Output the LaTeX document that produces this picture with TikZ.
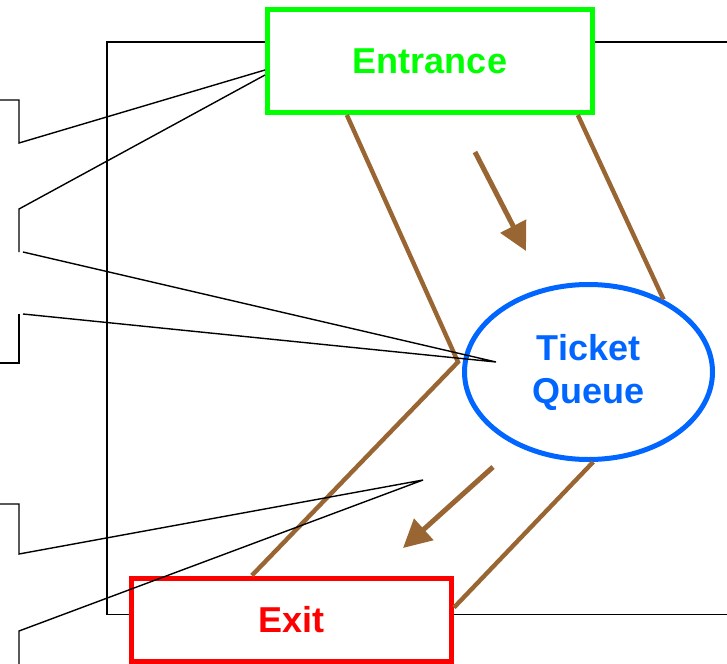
\documentclass[tikz,border=0pt]{standalone}
\usepackage{fontspec}
\setmainfont{Liberation Sans}
\usetikzlibrary{arrows.meta,shapes.geometric,calc}
\definecolor{lanebrown}{RGB}{153,102,51}
\definecolor{entgreen}{RGB}{0,255,0}
\definecolor{exitred}{RGB}{255,0,0}
\definecolor{qblue}{RGB}{0,102,255}
\begin{document}
\begin{tikzpicture}[x=1pt,y=-1pt,
  lbl/.style={font=\fontsize{36}{43}\selectfont\bfseries, align=center},
  gatebox/.style={rectangle, draw, line width=5pt, fill=white, lbl},
  wall/.style={line width=1.4pt, black},
  lane/.style={line width=4.4pt, lanebrown},
  flow/.style={line width=5pt, lanebrown, -{Triangle[length=28pt,width=28pt]}},
  callout/.style={line width=1.4pt, black, line join=miter}]
\useasboundingbox (0,0) rectangle (727,663);
\clip (0,0) rectangle (727,663);

% outer wall of the hall
\draw[wall] (730,42) -- (107,42) -- (107,614.5) -- (730,614.5);

% gates and queue
\node[gatebox, draw=entgreen, text=entgreen, minimum width=325pt, minimum height=103pt] (entr) at (430,61) {Entrance};
\node[gatebox, draw=exitred, text=exitred, minimum width=320pt, minimum height=83pt] (exit) at (291.5,619.5) {Exit};
\node[ellipse, draw=qblue, text=qblue, line width=5pt, fill=white, minimum width=248pt, minimum height=175pt, lbl] (queue) at (588.5,372) {Ticket\\Queue};

% lane borders
\coordinate (fork) at (458,362);
\draw[lane] ($(entr.south west)!0.248!(entr.south east)$) -- (fork) -- ($(exit.north west)!0.378!(exit.north east)$);
\draw[lane] ($(entr.south west)!0.948!(entr.south east)$) -- (queue.44);
\draw[lane] (queue.-87) -- ($(exit.north east)!0.364!(exit.south east)$);

% callout pointers
\coordinate (qtip) at (496,362);
\coordinate (xtip) at (423,480);
\draw[callout] (0,100) -- (19,100) -- (19,143) -- ($(entr.west)+(0,9)$);
\draw[callout] ($(entr.west)+(0,14)$) -- (19,209) -- (19,252);
\draw[callout] (23,252) -- (qtip) -- (23,314);
\draw[callout] (19,314) -- (19,363) -- (0,363);
\draw[callout] (0,504) -- (19,504) -- (19,554) -- (xtip) -- (19,631) -- (19,670);

% flow direction
\coordinate (a1s) at (475,152);
\coordinate (a1e) at (526,251);
\coordinate (a2s) at (493,467);
\coordinate (a2e) at (403,548);
\draw[flow] (a1s) -- (a1e);
\draw[flow] (a2s) -- (a2e);
\end{tikzpicture}
\end{document}
